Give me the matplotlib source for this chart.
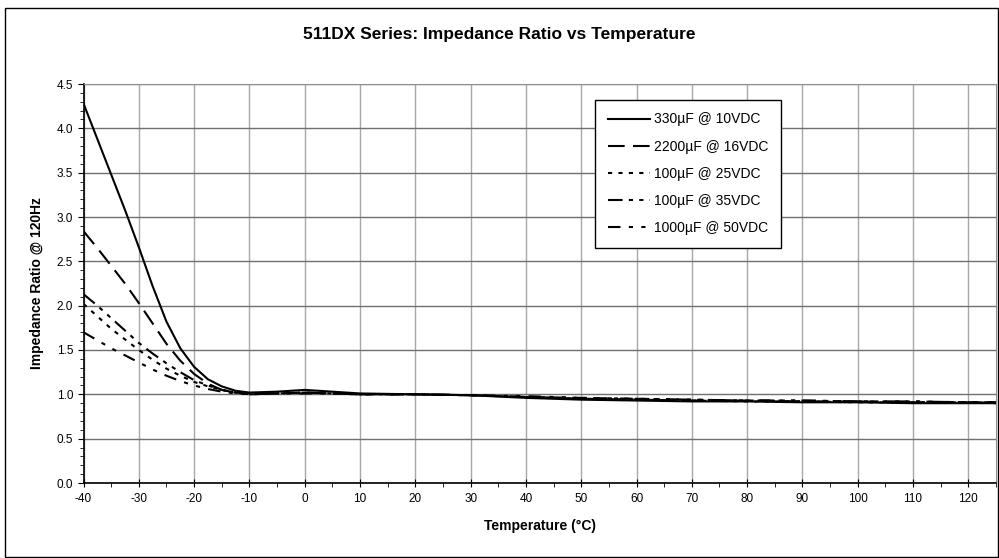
import matplotlib
matplotlib.use("Agg")
import matplotlib.pyplot as plt
import matplotlib.ticker as mticker
from matplotlib.patches import Rectangle

plt.rcParams["font.family"] = ["Liberation Sans", "DejaVu Sans"]
plt.rcParams["axes.unicode_minus"] = False

temps = [-40, -37.5, -35, -32.5, -30, -27.5, -25, -22.5, -20, -17.5, -15, -12.5, -10, -5, 0, 5, 10,
         20, 30, 40, 50, 60, 70, 80, 90, 100, 110, 120, 125]

z_330_10 = [4.28, 3.88, 3.48, 3.08, 2.66, 2.22, 1.82, 1.52, 1.31, 1.17, 1.09, 1.04, 1.02, 1.03, 1.05, 1.03, 1.01,
            1.00, 0.99, 0.96, 0.94, 0.93, 0.92, 0.92, 0.91, 0.91, 0.90, 0.90, 0.90]
z_2200_16 = [2.84, 2.65, 2.45, 2.25, 2.03, 1.80, 1.57, 1.38, 1.23, 1.12, 1.05, 1.02, 1.01, 1.01, 1.02, 1.01, 1.00,
             1.00, 0.99, 0.97, 0.95, 0.94, 0.93, 0.93, 0.92, 0.92, 0.91, 0.91, 0.91]
z_100_25 = [2.02, 1.88, 1.74, 1.62, 1.50, 1.39, 1.29, 1.21, 1.14, 1.09, 1.05, 1.02, 1.00, 1.01, 1.02, 1.01, 1.00,
            1.00, 0.99, 0.97, 0.95, 0.94, 0.93, 0.92, 0.92, 0.91, 0.91, 0.91, 0.90]
z_100_35 = [2.13, 2.00, 1.86, 1.72, 1.58, 1.46, 1.35, 1.25, 1.16, 1.10, 1.05, 1.02, 1.00, 1.01, 1.02, 1.01, 1.00,
            1.00, 0.99, 0.97, 0.96, 0.95, 0.94, 0.93, 0.93, 0.92, 0.92, 0.91, 0.91]
z_1000_50 = [1.70, 1.61, 1.52, 1.44, 1.36, 1.28, 1.21, 1.15, 1.10, 1.06, 1.03, 1.01, 1.00, 1.01, 1.01, 1.01, 1.00,
             1.00, 0.99, 0.98, 0.96, 0.95, 0.94, 0.93, 0.93, 0.92, 0.92, 0.91, 0.91]

labels = ["330µF @ 10VDC", "2200µF @ 16VDC", "100µF @ 25VDC", "100µF @ 35VDC", "1000µF @ 50VDC"]
series = [z_330_10, z_2200_16, z_100_25, z_100_35, z_1000_50]
styles = ["-", (0, (8, 4)), (0, (2, 3)), (0, (7, 3, 2, 3, 2, 3)), (0, (6, 4, 2, 4, 2, 4))]

fig = plt.figure(figsize=(9.99, 5.58), dpi=100)
fig.patches.append(Rectangle((5 / 999, 1 / 558), 993 / 999, 549 / 558, transform=fig.transFigure,
                             fill=False, edgecolor="black", linewidth=1))
ax = fig.add_axes([83.5 / 999, (558 - 483) / 558, 912.5 / 999, 399 / 558])

for ys, lab, ls in zip(series, labels, styles):
    ax.plot(temps, ys, color="black", linestyle=ls, linewidth=1.5, label=lab)

ax.set_xlim(-40, 125)
ax.set_ylim(0, 4.5)
ax.xaxis.set_major_locator(mticker.MultipleLocator(10))
ax.xaxis.set_minor_locator(mticker.MultipleLocator(5))
ax.yaxis.set_major_locator(mticker.MultipleLocator(0.5))
ax.yaxis.set_minor_locator(mticker.MultipleLocator(0.1))
ax.yaxis.set_major_formatter(mticker.FormatStrFormatter("%.1f"))

ax.grid(True, axis="y", which="major", color="#707070", linewidth=1)
ax.grid(True, axis="x", which="major", color="#a8a8a8", linewidth=1)
ax.set_axisbelow(True)

ax.tick_params(axis="x", which="major", direction="inout", length=6, labelsize=8.5, pad=4)
ax.tick_params(axis="x", which="minor", direction="out", length=3)
ax.tick_params(axis="y", which="major", direction="out", length=4, labelsize=8.5)
ax.tick_params(axis="y", which="minor", direction="out", length=3)

for s in ["top", "right"]:
    ax.spines[s].set_color("#909090")
for s in ["left", "bottom"]:
    ax.spines[s].set_linewidth(1.2)

fig.text(0.5, 1 - 35 / 558, "511DX Series: Impedance Ratio vs Temperature",
         ha="center", va="center", fontsize=12.5, fontweight="bold")
ax.set_xlabel("Temperature (°C)", fontsize=10, fontweight="bold", labelpad=10)
ax.set_ylabel("Impedance Ratio @ 120Hz", fontsize=10, fontweight="bold", labelpad=9)

leg = ax.legend(loc="upper left", bbox_to_anchor=(0.561, 0.96), fontsize=10, handlelength=3.0,
                labelspacing=0.95, fancybox=False, edgecolor="black", framealpha=1,
                borderpad=0.9, handletextpad=0.3, borderaxespad=0)
leg.get_frame().set_linewidth(1)

fig.savefig("out.png", dpi=100, facecolor="white")
